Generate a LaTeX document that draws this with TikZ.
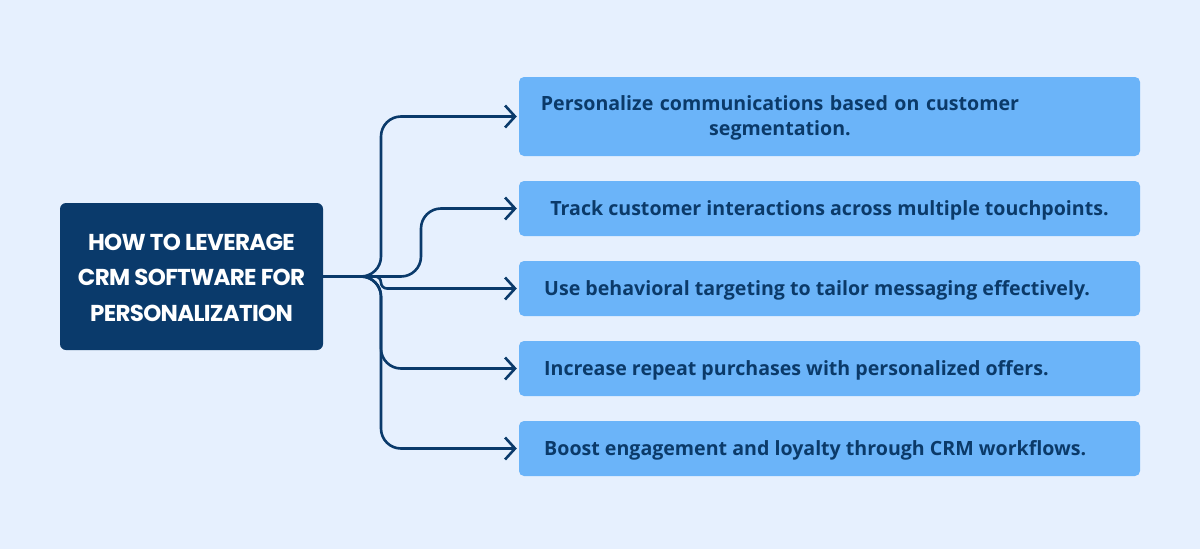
\documentclass[tikz,border=0pt]{standalone}
\usepackage{fontspec}
\setmainfont{Open Sans}
\newfontfamily\titlefont{Poppins}[LetterSpace=-3]
\newfontfamily\itemfont{Open Sans}
\usetikzlibrary{arrows.meta}
\definecolor{bgc}{HTML}{E6F0FE}
\definecolor{navy}{HTML}{0A3A6B}
\definecolor{boxc}{HTML}{6BB4F9}
\definecolor{txtc}{HTML}{0B3A69}
\tikzset{
  mainbox/.style={fill=navy, rounded corners=6pt, minimum width=263pt, minimum height=147pt, inner sep=0pt},
  itembox/.style={fill=boxc, rounded corners=5pt, minimum width=621pt, inner sep=0pt},
  itemtext/.style={font=\itemfont\bfseries\fontsize{19.6}{25}\selectfont, text=txtc, inner sep=0pt, yshift=-1.5pt},
  conn/.style={draw=navy, line width=2.6pt, rounded corners=20pt, -{Straight Barb[length=10pt,width=22pt,line width=2.6pt]}},
}
\begin{document}
\begin{tikzpicture}[x=1pt,y=-1pt]
\fill[bgc] (0,0) rectangle (1200,549);
\useasboundingbox (0,0) rectangle (1200,549);
\node[mainbox] (main) at (191.5,276.5) {};
\node[text=white, align=center, font=\titlefont\bfseries\fontsize{23}{35.5}\selectfont] (title) at (191.5,277.5) {HOW TO LEVERAGE\\CRM SOFTWARE FOR\\PERSONALIZATION};
\node[itembox, minimum height=79pt] (b1) at (829.5,116.5) {};
\node[itembox, minimum height=55pt] (b2) at (829.5,208.5) {};
\node[itembox, minimum height=55pt] (b3) at (829.5,288.5) {};
\node[itembox, minimum height=55pt] (b4) at (829.5,368.5) {};
\node[itembox, minimum height=55pt] (b5) at (829.5,448.5) {};
\node[itemtext, text width=490pt, align=center] (t1) at (780,116.5) {Personalize communications based on customer\\segmentation.};
\node[itemtext] (t2) at (829.5,208.5) {Track customer interactions across multiple touchpoints.};
\node[itemtext, anchor=west] (t3) at (544,288.5) {Use behavioral targeting to tailor messaging effectively.};
\node[itemtext, anchor=west] (t4) at (544,368.5) {Increase repeat purchases with personalized offers.};
\node[itemtext, anchor=west] (t5) at (544,448.5) {Boost engagement and loyalty through CRM workflows.};
\coordinate (j) at (381,276.5);
\coordinate (k) at (421,276.5);
\draw[conn] (main.east) -- (j) -- (j |- b1.west) -- ([xshift=-2pt]b1.west);
\draw[conn] (main.east) -- (k) -- (k |- b2.west) -- ([xshift=-2pt]b2.west);
\draw[conn, rounded corners=6pt] (main.east) -- (j) -- (j |- b3.west) -- ([xshift=-2pt]b3.west);
\draw[conn] (main.east) -- (j) -- (j |- b4.west) -- ([xshift=-2pt]b4.west);
\draw[conn] (main.east) -- (j) -- (j |- b5.west) -- ([xshift=-2pt]b5.west);
\end{tikzpicture}
\end{document}
